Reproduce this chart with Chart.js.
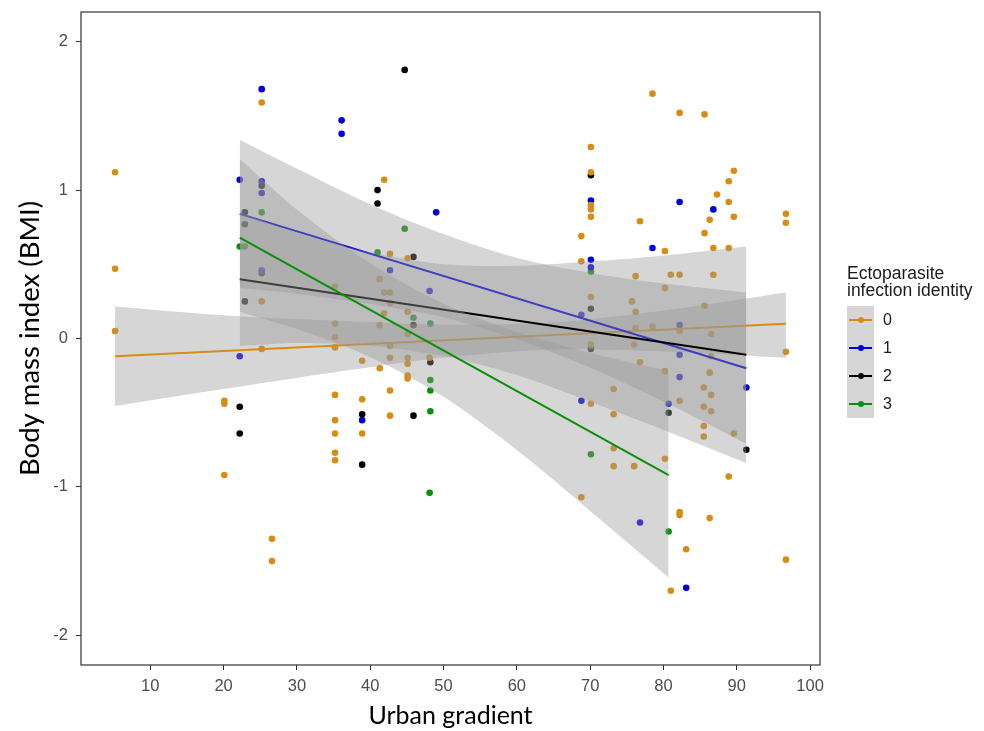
<!DOCTYPE html>
<html>
<head>
<meta charset="utf-8">
<script src="https://cdn.jsdelivr.net/npm/chart.js@4.4.0/dist/chart.umd.min.js"></script>
<style>
  html, body { margin: 0; padding: 0; background: #fff; }
  #wrap { position: relative; width: 984px; height: 731px; }
  #legend {
    position: absolute; left: 847px; top: 265px;
    font-family: 'Liberation Sans', Arial, sans-serif; color: #1a1a1a;
  }
  #legend .lg-title { font-size: 17.5px; line-height: 17px; white-space: nowrap; }
  #legend .lg-keys { margin-top: 7px; }
  #legend .lg-row { display: flex; align-items: center; height: 28px; }
  #legend .lg-key { position: relative; width: 27px; height: 28px; background: #d6d6d6; }
  #legend .lg-key .ln { position: absolute; left: 2px; right: 2px; top: 13px; height: 2px; }
  #legend .lg-key .dt { position: absolute; left: 10.5px; top: 11px; width: 6px; height: 6px; border-radius: 50%; }
  #legend .lg-lab { font-size: 16px; margin-left: 9px; }
</style>
</head>
<body>
<div id="wrap">
  <canvas id="c" width="984" height="731"></canvas>
  <div id="legend">
    <div class="lg-title">Ectoparasite<br>infection identity</div>
    <div class="lg-keys" id="keys"></div>
  </div>
</div>
<script>
// groups: ectoparasite infection identity 0..3
const GROUP_LABELS = ['0', '1', '2', '3'];
const GROUP_COLORS = ['#d98c12', '#0000d8', '#000000', '#0a8f0a'];

const X_TICKS = [10, 20, 30, 40, 50, 60, 70, 80, 90, 100];
const Y_TICKS = [-2, -1, 0, 1, 2];

// observed points [urban gradient, BMI]
const PTS_0 = [
  [5.2, 1.12], [5.2, 0.47], [5.2, 0.05],
  [25.2, 1.59], [25.2, 0.25], [25.2, -0.07],
  [20.1, -0.42], [20.1, -0.44], [20.1, -0.92], [26.6, -1.35], [26.6, -1.50],
  [41.9, 1.07], [42.7, 0.57], [45.1, 0.54], [41.3, 0.40], [35.2, 0.35], [41.9, 0.31], [42.7, 0.31],
  [42.7, 0.24], [41.9, 0.17], [45.1, 0.18], [35.2, 0.10], [41.3, 0.09], [35.2, 0.01], [45.1, 0.03],
  [35.2, -0.06], [42.7, -0.05], [38.9, -0.15], [42.7, -0.13], [45.1, -0.13], [45.1, -0.17],
  [48.1, -0.13], [41.3, -0.20], [45.1, -0.25], [45.1, -0.27], [42.7, -0.35], [35.2, -0.38],
  [38.9, -0.41], [42.7, -0.52], [35.2, -0.55], [35.2, -0.64], [38.9, -0.64], [35.2, -0.77], [35.2, -0.82],
  [78.5, 1.65], [82.2, 1.52], [85.6, 1.51], [70.1, 1.29], [70.1, 1.12], [89.6, 1.13], [88.9, 1.06],
  [87.3, 0.97], [70.1, 0.90], [70.1, 0.87], [88.9, 0.92], [70.1, 0.82], [89.6, 0.82], [86.3, 0.80],
  [96.7, 0.84], [96.7, 0.78], [76.8, 0.79], [85.6, 0.71], [68.8, 0.69], [80.2, 0.59], [86.8, 0.61],
  [88.9, 0.61], [68.8, 0.52],
  [76.2, 0.42], [81.0, 0.43], [82.2, 0.43], [86.8, 0.43], [80.2, 0.34], [70.1, 0.28], [75.7, 0.25],
  [85.6, 0.22], [76.2, 0.18], [76.2, 0.07], [78.5, 0.08], [82.2, 0.05], [86.5, 0.03],
  [70.1, -0.04], [76.0, -0.04], [86.5, -0.12], [96.7, -0.09], [76.8, -0.16], [80.2, -0.22],
  [86.3, -0.23], [73.2, -0.34], [85.5, -0.33], [86.5, -0.38], [70.1, -0.44], [82.2, -0.42],
  [85.5, -0.46], [86.5, -0.49], [73.2, -0.51], [85.5, -0.59], [89.6, -0.64], [85.5, -0.66],
  [73.2, -0.74], [80.2, -0.81], [73.2, -0.86], [76.0, -0.86], [88.9, -0.93], [68.8, -1.07],
  [82.2, -1.17], [82.2, -1.19], [86.3, -1.21], [83.1, -1.42], [96.7, -1.49], [81.0, -1.70]
];
const PTS_1 = [
  [25.2, 1.68], [22.2, 1.07], [25.2, 1.06], [25.2, 0.98], [25.2, 0.46], [22.2, -0.12],
  [36.1, 1.47], [36.1, 1.38], [49.0, 0.85], [42.7, 0.46], [48.1, 0.32], [38.9, -0.55],
  [70.1, 0.93], [82.2, 0.92], [86.8, 0.87], [78.5, 0.61], [70.1, 0.53], [70.1, 0.48], [68.8, 0.16],
  [82.2, 0.09], [82.2, -0.11], [82.2, -0.26], [91.3, -0.33], [68.8, -0.42], [80.7, -0.44],
  [76.8, -1.24], [83.1, -1.68]
];
const PTS_2 = [
  [22.9, 0.85], [22.9, 0.77], [25.2, 1.03], [25.2, 0.44], [22.9, 0.25], [22.2, -0.46], [22.2, -0.64],
  [44.7, 1.81], [41.0, 1.00], [41.0, 0.91], [45.9, 0.55], [45.9, 0.09], [48.2, -0.16], [38.9, -0.51],
  [45.9, -0.52], [38.9, -0.85],
  [70.1, 1.10], [70.1, 0.20], [70.1, -0.07], [80.7, -0.50], [91.3, -0.75]
];
const PTS_3 = [
  [25.2, 0.85], [22.2, 0.62], [22.9, 0.62], [41.0, 0.58], [44.7, 0.74], [45.9, 0.14], [48.2, 0.10],
  [48.2, -0.28], [48.2, -0.35], [48.2, -0.49], [48.1, -1.04], [70.1, 0.45], [70.1, -0.78], [80.7, -1.30]
];

// fitted lines (ends) and confidence bands
const LINE0_X = [5.2, 96.7];  const LINE0_Y = [-0.12, 0.10];
const LINE1_X = [22.2, 91.3]; const LINE1_Y = [0.84, -0.20];
const LINE2_X = [22.2, 91.3]; const LINE2_Y = [0.40, -0.11];
const LINE3_X = [22.2, 80.7]; const LINE3_Y = [0.68, -0.92];

const BAND0_X  = [5.2, 20.2, 35.2, 50.2, 65.2, 80.2, 96.7];
const BAND0_HI = [0.215, 0.155, 0.12, 0.094, 0.11, 0.19, 0.31];
const BAND0_LO = [-0.455, -0.339, -0.227, -0.128, -0.074, -0.087, -0.13];

const BAND1_X  = [22.2, 30.2, 40.2, 50.2, 60.2, 70.2, 80.2, 91.3];
const BAND1_HI = [1.34, 1.14, 0.90, 0.70, 0.54, 0.44, 0.37, 0.31];
const BAND1_LO = [0.34, 0.30, 0.23, 0.14, -0.01, -0.20, -0.43, -0.71];

const BAND2_X  = [22.2, 30.2, 40.2, 50.2, 60.2, 70.2, 80.2, 91.3];
const BAND2_HI = [0.85, 0.71, 0.58, 0.50, 0.49, 0.52, 0.56, 0.62];
const BAND2_LO = [-0.05, -0.03, -0.05, -0.12, -0.25, -0.43, -0.62, -0.84];

const BAND3_X  = [22.2, 30.2, 40.2, 50.2, 60.2, 70.2, 80.7];
const BAND3_HI = [1.21, 0.86, 0.50, 0.23, 0.04, -0.10, -0.22];
const BAND3_LO = [0.18, 0.06, -0.13, -0.40, -0.76, -1.17, -1.61];

const BAND_FILL = 'rgba(153,153,153,0.4)';

const xy = (xs, ys) => xs.map((x, i) => ({ x, y: ys[i] }));

function points(pts, color) {
  return {
    type: 'scatter',
    data: pts.map(([x, y]) => ({ x, y })),
    backgroundColor: color,
    borderWidth: 0,
    pointRadius: 3.3,
    order: 100
  };
}

// higher order = drawn earlier (underneath)
function band(xs, hi, lo, order) {
  return [
    { type: 'line', data: xy(xs, hi), borderWidth: 0, pointRadius: 0, tension: 0.3,
      backgroundColor: BAND_FILL, fill: '+1', order },
    { type: 'line', data: xy(xs, lo), borderWidth: 0, pointRadius: 0, tension: 0.3,
      fill: false, order }
  ];
}

function fit(xs, ys, color, order) {
  return { type: 'line', data: xy(xs, ys), borderColor: color, borderWidth: 2,
    pointRadius: 0, fill: false, order };
}

const panelBorder = {
  id: 'panelBorder',
  afterDraw(chart) {
    const { ctx, chartArea: a } = chart;
    ctx.save();
    ctx.strokeStyle = '#333';
    ctx.lineWidth = 1.2;
    ctx.strokeRect(a.left, a.top, a.right - a.left, a.bottom - a.top);
    ctx.restore();
  }
};

const tickFont = { family: "'Liberation Sans', Arial, sans-serif", size: 16.5 };

new Chart(document.getElementById('c'), {
  type: 'scatter',
  data: {
    datasets: [
      points(PTS_0, GROUP_COLORS[0]),
      points(PTS_1, GROUP_COLORS[1]),
      points(PTS_2, GROUP_COLORS[2]),
      points(PTS_3, GROUP_COLORS[3]),
      ...band(BAND0_X, BAND0_HI, BAND0_LO, 90),
      fit(LINE0_X, LINE0_Y, GROUP_COLORS[0], 85),
      ...band(BAND1_X, BAND1_HI, BAND1_LO, 80),
      fit(LINE1_X, LINE1_Y, GROUP_COLORS[1], 75),
      ...band(BAND2_X, BAND2_HI, BAND2_LO, 70),
      fit(LINE2_X, LINE2_Y, GROUP_COLORS[2], 65),
      ...band(BAND3_X, BAND3_HI, BAND3_LO, 60),
      fit(LINE3_X, LINE3_Y, GROUP_COLORS[3], 55)
    ]
  },
  plugins: [panelBorder],
  options: {
    responsive: false,
    animation: false,
    layout: { padding: { top: 12, right: 164, left: 0, bottom: 0 } },
    plugins: { legend: { display: false }, tooltip: { enabled: false } },
    scales: {
      x: {
        type: 'linear',
        min: 0.55,
        max: 101.35,
        afterBuildTicks: axis => { axis.ticks = X_TICKS.map(v => ({ value: v })); },
        afterFit: scale => { scale.height = 66; scale.paddingLeft = 0; scale.paddingRight = 0; },
        grid: { drawOnChartArea: false, drawTicks: true, tickLength: 5, color: '#333' },
        border: { display: false },
        ticks: { font: tickFont, color: '#4d4d4d', padding: 7, maxRotation: 0 },
        title: { display: true, text: 'Urban gradient', font: { family: 'Lato, sans-serif', size: 25 },
          color: '#000', padding: { top: 0, bottom: 0 } }
      },
      y: {
        min: -2.2,
        max: 2.2,
        afterBuildTicks: axis => { axis.ticks = Y_TICKS.map(v => ({ value: v })); },
        // tick labels sit well inside the range, so no extra room at top/bottom
        afterFit: scale => { scale.width = 81; scale.paddingTop = 0; scale.paddingBottom = 0; },
        grid: { drawOnChartArea: false, drawTicks: true, tickLength: 5, color: '#333' },
        border: { display: false },
        ticks: { font: tickFont, color: '#4d4d4d', padding: 8, callback: v => String(v) },
        title: { display: true, text: 'Body mass index (BMI)', font: { family: 'Lato, sans-serif', size: 27.5 },
          color: '#000', padding: { top: 14, bottom: 0 } }
      }
    }
  }
});

// ggplot-style legend keys
const keys = document.getElementById('keys');
GROUP_LABELS.forEach((lab, i) => {
  const row = document.createElement('div');
  row.className = 'lg-row';
  row.innerHTML =
    '<div class="lg-key"><div class="ln" style="background:' + GROUP_COLORS[i] + '"></div>' +
    '<div class="dt" style="background:' + GROUP_COLORS[i] + '"></div></div>' +
    '<span class="lg-lab">' + lab + '</span>';
  keys.appendChild(row);
});
</script>
</body>
</html>
